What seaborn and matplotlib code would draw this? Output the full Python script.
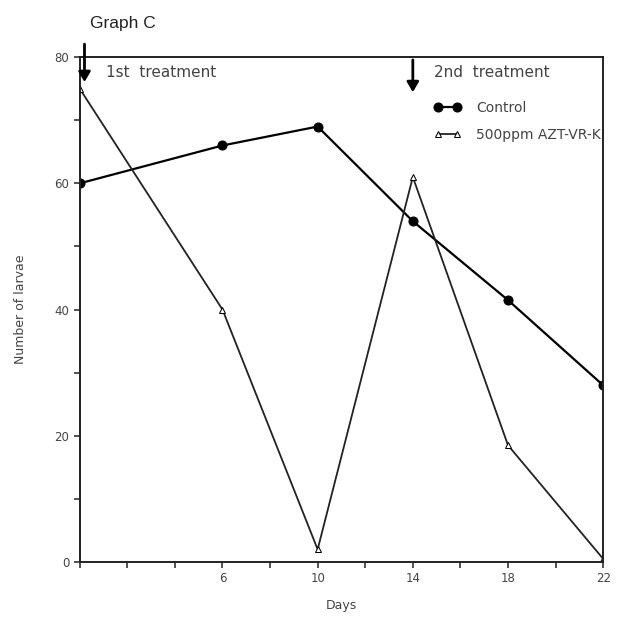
import pandas as pd
import matplotlib.pyplot as plt
import seaborn as sns

days = [0, 6, 10, 14, 18, 22]
control = [60, 66, 69, 54, 41.5, 28]
azt = [75, 40, 2, 61, 18.5, 0.5]

df = pd.DataFrame({"Days": days, "Control": control, "500ppm AZT-VR-K": azt})

sns.set_style("ticks")
plt.rcParams["font.family"] = ["DejaVu Sans"]

fig = plt.figure(figsize=(6.18, 6.21), dpi=100)
ax = fig.add_axes([0.129, 0.095, 0.847, 0.813])

sns.lineplot(data=df, x="Days", y="Control", ax=ax, color="black", lw=1.6,
             marker="o", markersize=6.5, markerfacecolor="black",
             markeredgecolor="black", label="Control")
sns.lineplot(data=df, x="Days", y="500ppm AZT-VR-K", ax=ax, color="#222222", lw=1.3,
             marker="^", markersize=5, markerfacecolor="white",
             markeredgecolor="black", label="500ppm AZT-VR-K")

ax.set_xlim(0, 22)
ax.set_ylim(0, 80)
ax.set_xticks(range(0, 23, 2))
ax.set_xticklabels(["" if d not in days[1:] else str(d) for d in range(0, 23, 2)])
ax.set_yticks(range(0, 81, 10))
ax.set_yticklabels([str(v) if v % 20 == 0 else "" for v in range(0, 81, 10)])
ax.tick_params(length=4, width=1.2, colors="#333333", labelsize=8.5, labelcolor="#444444")
for s in ax.spines.values():
    s.set_linewidth(1.4)
    s.set_color("#222222")

ax.set_xlabel("Days", fontsize=9, color="#444444", labelpad=10)
ax.set_ylabel("Number of larvae", fontsize=9, color="#444444", labelpad=20)

# treatment arrows
ax.annotate("", xy=(0.2, 75.6), xytext=(0.2, 82.5),
            arrowprops=dict(arrowstyle="-|>,head_width=0.35,head_length=0.6", lw=2, color="black"),
            annotation_clip=False)
ax.text(1.1, 77.6, "1st  treatment", fontsize=11, color="#444444", va="center")
ax.annotate("", xy=(14, 74.0), xytext=(14, 80),
            arrowprops=dict(arrowstyle="-|>,head_width=0.35,head_length=0.6", lw=2, color="black"),
            annotation_clip=False)
ax.text(14.9, 77.6, "2nd  treatment", fontsize=11, color="#444444", va="center")

ax.legend(loc="upper left", bbox_to_anchor=(0.665, 0.925), frameon=False, numpoints=2,
          handlelength=2.0, handletextpad=1.1, fontsize=10, labelcolor="#444444",
          labelspacing=0.95, borderaxespad=0)

fig.text(0.146, 0.962, "Graph C", fontsize=12.5, family="Liberation Sans", color="#222222", va="center")

plt.savefig("out.png", dpi=100)
